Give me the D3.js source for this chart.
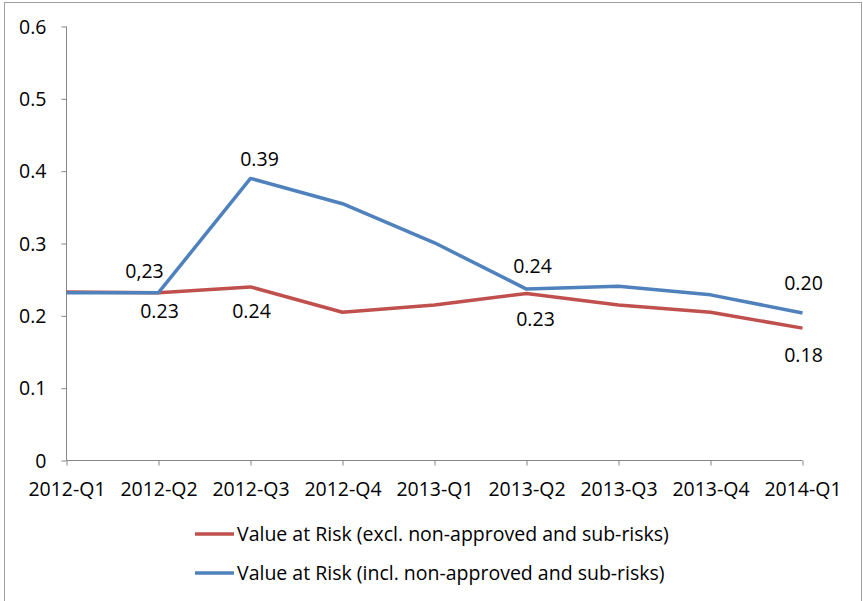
<!DOCTYPE html>
<html>
<head>
<meta charset="utf-8">
<script src="https://cdn.jsdelivr.net/npm/d3@7"></script>
<style>
  body { margin: 0; background: #fff; }
  svg text { font-family: "Open Sans", sans-serif; fill: #000; }
</style>
</head>
<body>
<div id="chart"></div>
<script>
// chart data
var quarters = ["2012-Q1","2012-Q2","2012-Q3","2012-Q4","2013-Q1","2013-Q2","2013-Q3","2013-Q4","2014-Q1"];
var excl = [0.233, 0.232, 0.240, 0.205, 0.215, 0.231, 0.215, 0.205, 0.183];
var incl = [0.232, 0.232, 0.390, 0.355, 0.301, 0.237, 0.241, 0.229, 0.204];
var yTicks = [0, 0.1, 0.2, 0.3, 0.4, 0.5, 0.6];
var seriesNames = ["Value at Risk (excl. non-approved and sub-risks)",
                   "Value at Risk (incl. non-approved and sub-risks)"];
// data labels: series, index, text
var labelSeries = [1, 0, 0, 1, 1, 0, 1, 0];
var labelIndex  = [1, 1, 2, 2, 5, 5, 8, 8];
var labelText   = ["0,23", "0.23", "0.24", "0.39", "0.24", "0.23", "0.20", "0.18"];
// label offsets (pixels from the point, center of text)
var labelDx = [-14, 1, 1, 9, 6, 9, 1, 1];
var labelDy = [-22, 18, 24, -19, -23, 26, -30, 27];

var w = 863, h = 601;
var fs = 19.5;
var colors = ["#C0504D", "#4F81BD"];

var svg = d3.select("#chart").append("svg")
  .attr("width", w).attr("height", h);

// outer frame
svg.append("rect")
  .attr("x", 4.5).attr("y", 2.5)
  .attr("width", 857).attr("height", 610)
  .attr("fill", "none").attr("stroke", "#a0a0a0").attr("stroke-width", 1);

var x = d3.scalePoint().domain(quarters).range([66.5, 802.5]);
var y = d3.scaleLinear().domain([0, 0.6]).range([460.5, 26.5]);

// y axis
var yAxis = svg.append("g")
  .attr("transform", "translate(66.5,0)")
  .call(d3.axisLeft(y).tickValues(yTicks).tickSize(5).tickPadding(15)
    .tickFormat(function(d){ return d === 0 ? "0" : d3.format(".1f")(d); }));
yAxis.select(".domain").attr("stroke", "#868686").attr("d", "M0," + y(0.6) + "V" + y(0));
yAxis.selectAll(".tick line").attr("stroke", "#868686");
yAxis.selectAll("text").attr("font-size", fs).attr("dy", "0.35em")
  .style("font-family", "'Open Sans', sans-serif").attr("fill", "#000");

// x axis
var xAxis = svg.append("g")
  .attr("transform", "translate(0,460.5)")
  .call(d3.axisBottom(x).tickSize(5).tickPadding(17));
xAxis.select(".domain").attr("stroke", "#868686").attr("d", "M" + x(quarters[0]) + ",0H" + x(quarters[8]));
xAxis.selectAll(".tick line").attr("stroke", "#868686");
xAxis.selectAll("text").attr("font-size", fs)
  .style("font-family", "'Open Sans', sans-serif").attr("fill", "#000");

var line = d3.line()
  .x(function(d, i){ return x(quarters[i]); })
  .y(function(d){ return y(d); });

var data = [excl, incl];
svg.selectAll("path.series")
  .data(data)
  .enter()
  .append("path")
  .attr("class", "series")
  .attr("d", line)
  .attr("fill", "none")
  .attr("stroke", function(d, i){ return colors[i]; })
  .attr("stroke-width", 3.5)
  .attr("stroke-linejoin", "round");

// data labels
svg.selectAll("text.lbl")
  .data(labelText)
  .enter()
  .append("text")
  .attr("class", "lbl")
  .attr("text-anchor", "middle")
  .attr("dy", "0.35em")
  .attr("font-size", fs)
  .attr("x", function(d, i){ return x(quarters[labelIndex[i]]) + labelDx[i]; })
  .attr("y", function(d, i){ return y(data[labelSeries[i]][labelIndex[i]]) + labelDy[i]; })
  .text(function(d){ return d; });

// legend
var legend = svg.selectAll("g.legend")
  .data(seriesNames)
  .enter()
  .append("g")
  .attr("class", "legend")
  .attr("transform", function(d, i){ return "translate(195," + (534 + i * 39) + ")"; });
legend.append("line")
  .attr("x1", 0).attr("x2", 39)
  .attr("stroke", function(d, i){ return colors[i]; })
  .attr("stroke-width", 3.5);
legend.append("text")
  .attr("x", 42).attr("dy", "0.35em")
  .attr("font-size", fs)
  .text(function(d){ return d; });
</script>
</body>
</html>
